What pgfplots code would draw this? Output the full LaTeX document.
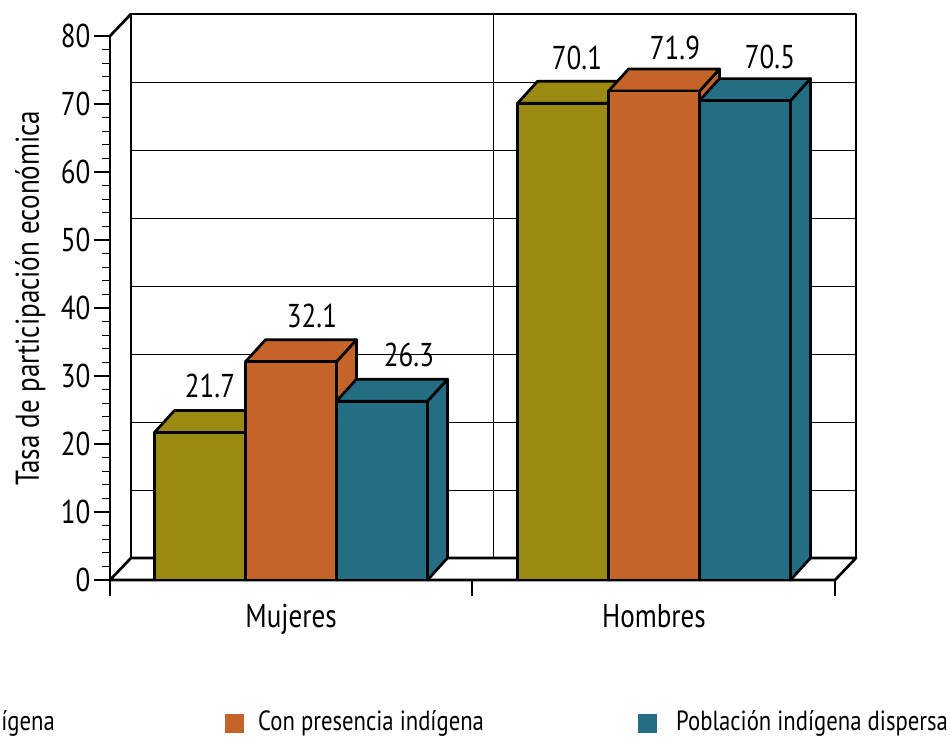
\documentclass[border=0pt]{standalone}
\usepackage{fontspec}
\setmainfont[FakeStretch=0.82]{PT Sans}
\usepackage{pgfplots}
\pgfplotsset{compat=1.18}
\definecolor{barOlive}{RGB}{155,138,18}
\definecolor{barOrange}{RGB}{196,100,40}
\definecolor{barTeal}{RGB}{36,110,133}
\newcommand{\lbl}{\fontsize{33}{37}\selectfont}
\newcommand{\leg}{\fontsize{27.7}{32}\selectfont}
\newcommand{\depthx}{20}
\newcommand{\depthy}{3.235}
% one 3d bar: left x, right x, value, colour
\newcommand{\barbox}[4]{%
  \addplot[fill=#4,draw=black,line width=2.7pt,line join=round] coordinates {(#2,0)(#2+\depthx,\depthy)(#2+\depthx,#3+\depthy)(#2,#3)} -- cycle;
  \addplot[fill=#4,draw=black,line width=2.7pt,line join=round] coordinates {(#1,#3)(#1+\depthx,#3+\depthy)(#2+\depthx,#3+\depthy)(#2,#3)} -- cycle;
  \addplot[fill=#4,draw=black,line width=2.7pt,line join=round] coordinates {(#1,0)(#1,#3)(#2,#3)(#2,0)} -- cycle;
}
\begin{document}
\begin{tikzpicture}
\useasboundingbox (0,0) rectangle (950pt,740pt);
\clip (0,0) rectangle (950pt,740pt);
\begin{axis}[
  at={(110pt,160pt)},anchor=south west,
  scale only axis,width=725pt,height=544pt,
  xmin=110,xmax=835,ymin=0,ymax=80,
  clip=false,
  axis x line=bottom,axis y line=left,
  axis line style={-,line width=2.7pt},
  xtick={110,472,835},xticklabels={},
  extra x ticks={291,654},extra x tick labels={Mujeres,Hombres},
  extra x tick style={major tick length=0pt,tick label style={yshift=-21pt}},
  ytick={0,10,...,80},minor y tick num=4,
  tick align=outside,major tick length=16pt,minor tick length=8pt,
  tick style={black,line width=1.2pt},
  tick label style={font=\lbl},
  /pgf/number format/assume math mode=true,
  ylabel={Tasa de participación económica},
  ylabel style={font=\lbl,at={(axis description cs:-0.11,0.518)},anchor=center},
]
% walls and floor
\addplot[draw=black,line width=2.7pt,line join=round] coordinates {(131,0+\depthy)(131,80+\depthy)(856,80+\depthy)(856,0+\depthy)} -- cycle;
\addplot[draw=black,line width=2.7pt,line join=round] coordinates {(110,0)(131,0+\depthy)(856,0+\depthy)(835,0)} -- cycle;
\addplot[draw=black,line width=2.7pt] coordinates {(110,80)(131,80+\depthy)};
\addplot[draw=black,line width=1pt] coordinates {(493,0+\depthy)(493,80+\depthy)};
\pgfplotsinvokeforeach{10,20,30,40,50,60,70}{
  \addplot[draw=black,line width=1pt] coordinates {(131,#1+\depthy)(856,#1+\depthy)};
}
% bars
\barbox{154.5}{245.5}{21.7}{barOlive}
\barbox{245.5}{336.5}{32.1}{barOrange}
\barbox{336.5}{427.5}{26.3}{barTeal}
\barbox{517.5}{608.5}{70.1}{barOlive}
\barbox{608.5}{699.5}{71.9}{barOrange}
\barbox{699.5}{790.5}{70.5}{barTeal}
% value labels
\node[font=\lbl] at (axis cs:210,28.5) {21.7};
\node[font=\lbl] at (axis cs:312,38.8) {32.1};
\node[font=\lbl] at (axis cs:409,33.1) {26.3};
\node[font=\lbl] at (axis cs:577,76.8) {70.1};
\node[font=\lbl] at (axis cs:675,78.2) {71.9};
\node[font=\lbl] at (axis cs:770,76.9) {70.5};
% legend
\addplot[only marks,mark=square*,mark size=9pt,barOlive,mark options={draw=none}] coordinates {(-60,-21.03)};
\addplot[only marks,mark=square*,mark size=9pt,barOrange,mark options={draw=none}] coordinates {(234,-21.03)};
\addplot[only marks,mark=square*,mark size=9pt,barTeal,mark options={draw=none}] coordinates {(647,-21.03)};
\node[font=\leg,anchor=east,inner sep=0pt] at (axis cs:55,-21.03) {Indígena};
\node[font=\leg,anchor=west,inner sep=0pt] at (axis cs:258,-21.03) {Con presencia indígena};
\node[font=\leg,anchor=west,inner sep=0pt] at (axis cs:676,-21.03) {Población indígena dispersa};
\end{axis}
\end{tikzpicture}
\end{document}
